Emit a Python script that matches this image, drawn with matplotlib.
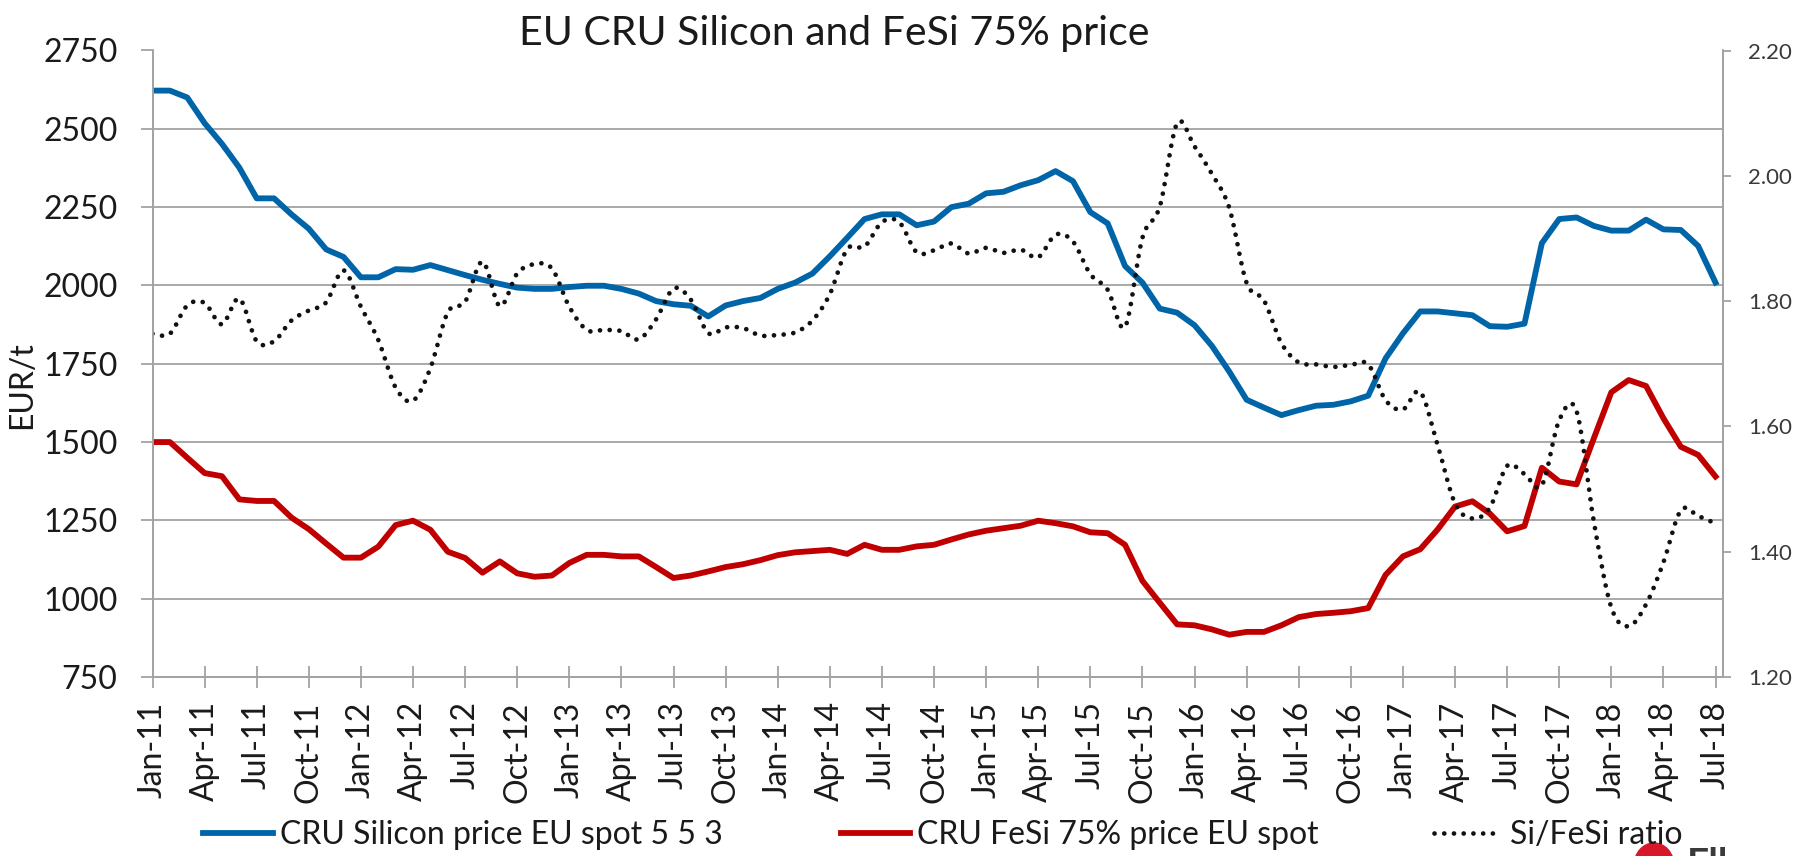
import numpy as np
import matplotlib
matplotlib.use("Agg")
import matplotlib.pyplot as plt
from matplotlib.path import Path
from matplotlib.patches import PathPatch, Ellipse
from matplotlib.lines import Line2D

plt.rcParams['font.family'] = ['Lato', 'DejaVu Sans']

# monthly Jan-11 .. Jul-18
tick_labels = ['Jan-11', 'Apr-11', 'Jul-11', 'Oct-11', 'Jan-12', 'Apr-12', 'Jul-12', 'Oct-12',
               'Jan-13', 'Apr-13', 'Jul-13', 'Oct-13', 'Jan-14', 'Apr-14', 'Jul-14', 'Oct-14',
               'Jan-15', 'Apr-15', 'Jul-15', 'Oct-15', 'Jan-16', 'Apr-16', 'Jul-16', 'Oct-16',
               'Jan-17', 'Apr-17', 'Jul-17', 'Oct-17', 'Jan-18', 'Apr-18', 'Jul-18']

si_price = [2622, 2622, 2600, 2518, 2452, 2376, 2278, 2278, 2227, 2181, 2115, 2091,
            2026, 2026, 2052, 2050, 2065, 2049, 2033, 2018, 2005, 1993, 1989, 1989,
            1995, 1999, 1999, 1989, 1974, 1950, 1940, 1935, 1901, 1936, 1950, 1960,
            1989, 2009, 2038, 2093, 2152, 2212, 2227, 2227, 2192, 2204, 2250, 2261,
            2294, 2299, 2320, 2336, 2365, 2333, 2234, 2198, 2062, 2009, 1926, 1913,
            1873, 1807, 1725, 1635, 1610, 1586, 1602, 1616, 1619, 1630, 1648, 1767,
            1847, 1917, 1917, 1911, 1905, 1870, 1868, 1878, 2135, 2212, 2217, 2190,
            2175, 2175, 2210, 2179, 2177, 2126, 2009]

fesi_price = [1500, 1500, 1450, 1401, 1391, 1317, 1312, 1312, 1259, 1222, 1176, 1131,
              1131, 1166, 1235, 1249, 1220, 1150, 1130, 1083, 1119, 1081, 1070, 1074,
              1114, 1140, 1140, 1135, 1135, 1101, 1066, 1074, 1087, 1101, 1110, 1123,
              1139, 1148, 1152, 1156, 1143, 1172, 1156, 1156, 1167, 1172, 1189, 1205,
              1217, 1225, 1233, 1249, 1241, 1231, 1212, 1209, 1172, 1057, 987, 918,
              915, 902, 885, 894, 894, 915, 941, 951, 955, 960, 970, 1076,
              1135, 1158, 1221, 1294, 1311, 1272, 1215, 1232, 1418, 1374, 1365, 1513,
              1659, 1698, 1679, 1576, 1485, 1459, 1390]

si_fesi_ratio = [1.748, 1.748, 1.793, 1.797, 1.763, 1.804, 1.736, 1.736, 1.769, 1.785, 1.798, 1.849,
                 1.791, 1.738, 1.662, 1.641, 1.693, 1.782, 1.799, 1.863, 1.792, 1.844, 1.859, 1.852,
                 1.791, 1.754, 1.754, 1.752, 1.739, 1.771, 1.820, 1.802, 1.749, 1.758, 1.757, 1.745,
                 1.746, 1.750, 1.769, 1.811, 1.883, 1.887, 1.926, 1.926, 1.878, 1.881, 1.892, 1.876,
                 1.885, 1.877, 1.882, 1.870, 1.906, 1.895, 1.843, 1.818, 1.759, 1.901, 1.951, 2.084,
                 2.047, 2.003, 1.949, 1.829, 1.801, 1.733, 1.702, 1.699, 1.695, 1.698, 1.699, 1.642,
                 1.627, 1.655, 1.570, 1.477, 1.453, 1.470, 1.537, 1.524, 1.506, 1.610, 1.624, 1.447,
                 1.311, 1.281, 1.316, 1.383, 1.466, 1.457, 1.445]

BLUE = '#0065a8'
RED = '#c00000'
GRID = '#a3a3a3'
TXT = '#1a1a1a'
W, H = 1804, 856


def smooth_path(x, y):
    # catmull-rom through the points, as cubic beziers (excel "smoothed line")
    x = np.asarray(x, float)
    y = np.asarray(y, float)
    px = np.r_[x[0], x, x[-1]]
    py = np.r_[y[0], y, y[-1]]
    verts = [(x[0], y[0])]
    codes = [Path.MOVETO]
    for i in range(len(x) - 1):
        c1 = (px[i + 1] + (px[i + 2] - px[i]) / 6, py[i + 1] + (py[i + 2] - py[i]) / 6)
        c2 = (px[i + 2] - (px[i + 3] - px[i + 1]) / 6, py[i + 2] - (py[i + 3] - py[i + 1]) / 6)
        verts += [c1, c2, (px[i + 2], py[i + 2])]
        codes += [Path.CURVE4] * 3
    return Path(verts, codes)


fig = plt.figure(figsize=(W / 100, H / 100), dpi=100)
left, right, top, bottom = 152.5, 1723, 50.5, 677
ax = fig.add_axes([left / W, 1 - bottom / H, (right - left) / W, (bottom - top) / H])
ax2 = ax.twinx()

x = np.arange(len(si_price))
ax.plot(x, si_price, color=BLUE, lw=4.2, solid_joinstyle='round', zorder=3)
ax.plot(x, fesi_price, color=RED, lw=4.2, solid_joinstyle='round', zorder=3)

dot_style = dict(lw=3.4, linestyle=(0, (0.01, 2.05)))
ratio_patch = PathPatch(smooth_path(x, si_fesi_ratio), fill=False, edgecolor='#111111',
                        capstyle='round', **dot_style)
ax2.add_patch(ratio_patch)

ax.set_xlim(0, 90.43)
ax.set_ylim(750, 2750)
ax.set_yticks(range(750, 2751, 250))
ax.yaxis.grid(True, color=GRID, lw=1.3)
ax.set_axisbelow(True)
ax.set_xticks(np.arange(0, 91, 3))
ax.set_xticklabels(tick_labels, rotation=90)
ax.tick_params(axis='x', direction='inout', length=16, width=1.3, color=GRID,
               pad=9.5, labelsize=23, labelcolor=TXT)
ax.tick_params(axis='y', direction='out', length=8.7, width=1.3, color=GRID,
               pad=16.5, labelsize=23, labelcolor=TXT)

ax2.set_ylim(1.2, 2.2)
ax2.set_yticks(np.arange(1.2, 2.201, 0.2))
ax2.set_yticklabels([f'{v:.2f}' for v in np.arange(1.2, 2.201, 0.2)])
ax2.tick_params(axis='y', direction='out', length=5.8, width=1.3, color=GRID,
                pad=12.5, labelsize=16, labelcolor='#3a3a3a')

for a in (ax, ax2):
    for side in ('left', 'right', 'bottom'):
        a.spines[side].set_color(GRID)
        a.spines[side].set_linewidth(1.3)
    a.spines['top'].set_visible(False)

fig.text(834 / W, 1 - 45 / H, 'EU CRU Silicon and FeSi 75% price', ha='center',
         va='baseline', fontsize=29.5, color=TXT)
fig.text(22 / W, 1 - 385 / H, 'EUR/t', rotation=90, ha='center', va='center',
         fontsize=23, color=TXT)

# legend, one entry at a time to keep the uneven spacing
fs = 23
fs_px = fs * 100 / 72
entries = [
    (Line2D([], [], color=BLUE, lw=4.2), 'CRU Silicon price EU spot 5 5 3', 203, 70, 7),
    (Line2D([], [], color=RED, lw=4.2), 'CRU FeSi 75% price EU spot', 841, 69, 7),
    (Line2D([], [], color='#111111', dash_capstyle='round', **dot_style), 'Si/FeSi ratio', 1434, 61, 15),
]
for handle, label, x0, hl, tp in entries:
    leg = fig.legend([handle], [label], loc='center left', bbox_to_anchor=(x0 / W, 1 - 835 / H),
                     frameon=False, fontsize=fs, borderpad=0, borderaxespad=0,
                     handlelength=hl / fs_px, handletextpad=tp / fs_px)
    for t in leg.get_texts():
        t.set_color(TXT)

# cut-off company logo in the corner
fig.patches.append(Ellipse((1654 / W, 1 - 866 / H), 40 / W, 46 / H, color='#d7182a',
                           transform=fig.transFigure, figure=fig))
fig.text(1687 / W, 1 - 847 / H, 'Elkem', ha='left', va='top', fontsize=28,
         color='#3a3a3a', fontweight='bold')

fig.savefig('out.png', dpi=100)
